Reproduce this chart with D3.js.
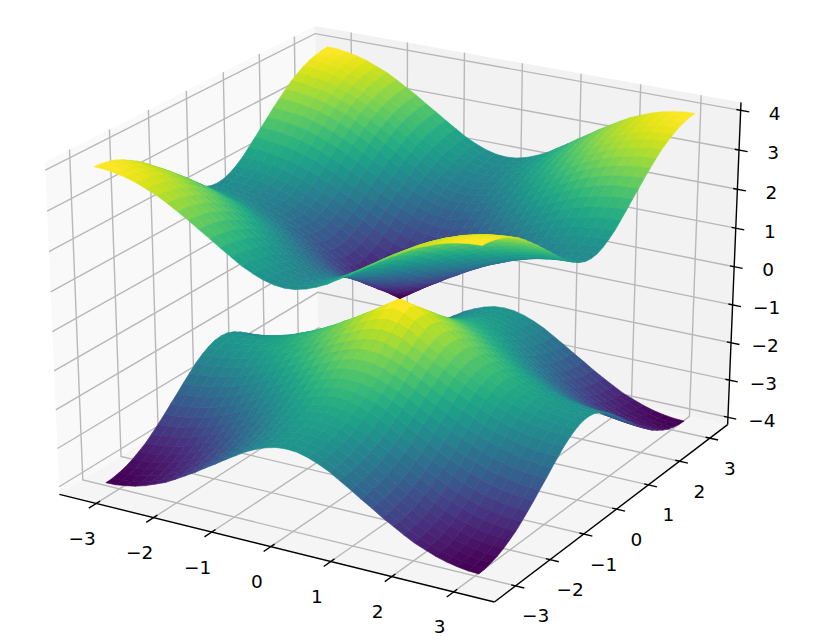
<!DOCTYPE html>
<html><head><meta charset="utf-8">
<script src="https://cdn.jsdelivr.net/npm/d3@7"></script>
<style>html,body{margin:0;background:#fff}svg{display:block}text{font-family:"DejaVu Sans";font-size:18.5px;fill:#000}</style>
</head><body><svg id="c" width="824" height="640"></svg>
<script>
const xTicks=[-3,-2,-1,0,1,2,3], yTicks=[-3,-2,-1,0,1,2,3], zTicks=[-4,-3,-2,-1,0,1,2,3,4];
const xLimit=3.65, yLimit=3.6, zLimit=4.2;
const gridStops=[-3.14,-2.97,-2.79,-2.62,-2.44,-2.27,-2.09,-1.92,-1.75,-1.57,-1.4,-1.22,-1.05,-0.87,-0.7,-0.52,-0.35,-0.17,0,0.17,0.35,0.52,0.7,0.87,1.05,1.22,1.4,1.57,1.75,1.92,2.09,2.27,2.44,2.62,2.79,2.97,3.14];
const upperHeights=[
[0,.17,.35,.52,.68,.85,1,1.15,1.29,1.41,1.53,1.64,1.73,1.81,1.88,1.93,1.97,1.99,2],
[.17,.25,.39,.55,.71,.87,1.02,1.17,1.31,1.44,1.55,1.66,1.75,1.84,1.9,1.95,1.99,2.02,2.02],
[.35,.39,.5,.64,.79,.94,1.09,1.23,1.37,1.5,1.62,1.72,1.82,1.9,1.97,2.02,2.06,2.08,2.09],
[.52,.55,.64,.76,.89,1.04,1.18,1.33,1.46,1.59,1.71,1.82,1.92,2,2.07,2.12,2.16,2.18,2.19],
[.68,.71,.79,.89,1.02,1.16,1.31,1.45,1.58,1.71,1.83,1.94,2.04,2.13,2.2,2.25,2.29,2.32,2.32],
[.85,.87,.94,1.04,1.16,1.3,1.44,1.58,1.72,1.85,1.98,2.09,2.19,2.28,2.35,2.4,2.45,2.47,2.48],
[1,1.02,1.09,1.18,1.31,1.44,1.58,1.73,1.87,2,2.13,2.24,2.35,2.44,2.51,2.57,2.61,2.64,2.65],
[1.15,1.17,1.23,1.33,1.45,1.58,1.73,1.87,2.01,2.15,2.28,2.4,2.51,2.6,2.68,2.74,2.78,2.81,2.82],
[1.29,1.31,1.37,1.46,1.58,1.72,1.87,2.01,2.16,2.3,2.44,2.56,2.67,2.77,2.85,2.91,2.96,2.98,2.99],
[1.41,1.44,1.5,1.59,1.71,1.85,2,2.15,2.3,2.45,2.59,2.71,2.83,2.93,3.01,3.08,3.12,3.15,3.16],
[1.53,1.55,1.62,1.71,1.83,1.98,2.13,2.28,2.44,2.59,2.73,2.86,2.98,3.08,3.17,3.23,3.28,3.31,3.32],
[1.64,1.66,1.72,1.82,1.94,2.09,2.24,2.4,2.56,2.71,2.86,3,3.12,3.22,3.31,3.38,3.43,3.46,3.47],
[1.73,1.75,1.82,1.92,2.04,2.19,2.35,2.51,2.67,2.83,2.98,3.12,3.24,3.35,3.44,3.51,3.56,3.6,3.61],
[1.81,1.84,1.9,2,2.13,2.28,2.44,2.6,2.77,2.93,3.08,3.22,3.35,3.46,3.55,3.63,3.68,3.71,3.72],
[1.88,1.9,1.97,2.07,2.2,2.35,2.51,2.68,2.85,3.01,3.17,3.31,3.44,3.55,3.65,3.72,3.78,3.81,3.82],
[1.93,1.95,2.02,2.12,2.25,2.4,2.57,2.74,2.91,3.08,3.23,3.38,3.51,3.63,3.72,3.8,3.85,3.89,3.9],
[1.97,1.99,2.06,2.16,2.29,2.45,2.61,2.78,2.96,3.12,3.28,3.43,3.56,3.68,3.78,3.85,3.91,3.94,3.95],
[1.99,2.02,2.08,2.18,2.32,2.47,2.64,2.81,2.98,3.15,3.31,3.46,3.6,3.71,3.81,3.89,3.94,3.98,3.99],
[2,2.02,2.09,2.19,2.32,2.48,2.65,2.82,2.99,3.16,3.32,3.47,3.61,3.72,3.82,3.9,3.95,3.99,4]];
// the lower sheet mirrors the upper one about z = 0 in the picture
const lowerHeights=upperHeights.map(row=>row.map(z=>-z));

const elev=24.5*Math.PI/180, azim=-59.7*Math.PI/180, dist=10;
const k=1.8294640721620434*25/24/Math.hypot(4,4,3), box=[4*k,4*k,3.3*k];
const R=box.map(v=>v/2);
const w=[Math.cos(elev)*Math.cos(azim),Math.cos(elev)*Math.sin(azim),Math.sin(elev)];
const E=R.map((r,i)=>r+dist*w[i]);
const cross=(a,b)=>[a[1]*b[2]-a[2]*b[1],a[2]*b[0]-a[0]*b[2],a[0]*b[1]-a[1]*b[0]];
const dot=(a,b)=>a[0]*b[0]+a[1]*b[1]+a[2]*b[2];
const nz=v=>{const n=Math.hypot(...v);return v.map(c=>c/n)};
const u=nz(cross([0,0,1],w)), v=cross(w,u);
const sx=d3.scaleLinear([-xLimit,xLimit],[0,box[0]]), sy=d3.scaleLinear([-yLimit,yLimit],[0,box[1]]), sz=d3.scaleLinear([-zLimit,zLimit],[0,box[2]]);
function view(x,y,z){const p=[sx(x),sy(y),sz(z)],d=p.map((c,i)=>c-E[i]),D=-dot(d,w);return {a:dot(d,u)/D,b:dot(d,v)/D,D};}
const corners=[];for(const x of [-xLimit,xLimit])for(const y of [-yLimit,yLimit])for(const z of [-zLimit,zLimit])corners.push(view(x,y,z));
const px=d3.scaleLinear(d3.extent(corners,c=>c.a),[45,741]);
const py=d3.scaleLinear(d3.extent(corners,c=>c.b),[602,26]);
const P=(x,y,z)=>{const q=view(x,y,z);return [px(q.a),py(q.b)]};
const svg=d3.select('#c');
const line3=pts=>'M'+pts.map(p=>P(...p).join(',')).join('L');

const XL=xLimit,YL=yLimit,ZL=zLimit;
svg.append('path').attr('d',line3([[-XL,-YL,-ZL],[-XL,YL,-ZL],[-XL,YL,ZL],[-XL,-YL,ZL]])+'Z').attr('fill','#f9f9f9');
svg.append('path').attr('d',line3([[-XL,YL,-ZL],[XL,YL,-ZL],[XL,YL,ZL],[-XL,YL,ZL]])+'Z').attr('fill','#f2f2f2');
svg.append('path').attr('d',line3([[-XL,-YL,-ZL],[XL,-YL,-ZL],[XL,YL,-ZL],[-XL,YL,-ZL]])+'Z').attr('fill','#f5f5f5');
const gridColor='#b8b8b8', gridW=1.4;
const g=svg.append('g').attr('fill','none').attr('stroke',gridColor).attr('stroke-width',gridW);
xTicks.forEach(t=>g.append('path').attr('d',line3([[t,-YL,-ZL],[t,YL,-ZL],[t,YL,ZL]])));
yTicks.forEach(t=>g.append('path').attr('d',line3([[XL,t,-ZL],[-XL,t,-ZL],[-XL,t,ZL]])));
zTicks.forEach(t=>g.append('path').attr('d',line3([[-XL,-YL,t],[-XL,YL,t],[XL,YL,t]])));
const a=svg.append('g').attr('fill','none').attr('stroke','#000').attr('stroke-width',1.4);
a.append('path').attr('d',line3([[-XL,-YL,-ZL],[XL,-YL,-ZL]]));
a.append('path').attr('d',line3([[XL,-YL,-ZL],[XL,YL,-ZL]]));
a.append('path').attr('d',line3([[XL,YL,-ZL],[XL,YL,ZL]]));
const fmt=d3.format('d');
const label=(p,dx,dy,t)=>svg.append('text').attr('x',p[0]+dx).attr('y',p[1]+dy).attr('text-anchor','middle').attr('dominant-baseline','central').text(fmt(t));
xTicks.forEach(t=>{a.append('path').attr('d',line3([[t,-YL+0.1,-ZL],[t,-YL-0.19,-ZL]]));label(P(t,-YL,-ZL),-14,35,t);});
yTicks.forEach(t=>{a.append('path').attr('d',line3([[XL-0.07,t,-ZL],[XL+0.14,t,-ZL]]));label(P(XL,t,-ZL),20,30,t);});
zTicks.forEach(t=>{a.append('path').attr('d',line3([[XL-0.07,YL,t],[XL+0.14,YL,t]]));label(P(XL,YL,t),34,3,t);});

function surface(table){
  const mid=(gridStops.length-1)/2;
  const zAt=(i,j)=>table[Math.abs(i-mid)][Math.abs(j-mid)];
  const faces=[];
  for(let i=0;i<gridStops.length-1;i++)for(let j=0;j<gridStops.length-1;j++){
    const pts=[[i,j],[i+1,j],[i+1,j+1],[i,j+1]].map(([m,n])=>[gridStops[m],gridStops[n],zAt(m,n)]);
    faces.push({pts,mean:d3.mean(pts,p=>p[2]),depth:d3.mean(pts,p=>view(...p).D)});
  }
  const color=d3.scaleSequential(d3.interpolateViridis).domain(d3.extent(faces,f=>f.mean));
  faces.sort((p,q)=>q.depth-p.depth);
  svg.append('g').selectAll('path').data(faces).join('path')
    .attr('d',f=>line3(f.pts)+'Z').attr('fill',f=>color(f.mean)).attr('stroke',f=>color(f.mean)).attr('stroke-width',0.6).attr('stroke-linejoin','round');
}
surface(lowerHeights);
surface(upperHeights);
</script></body></html>
